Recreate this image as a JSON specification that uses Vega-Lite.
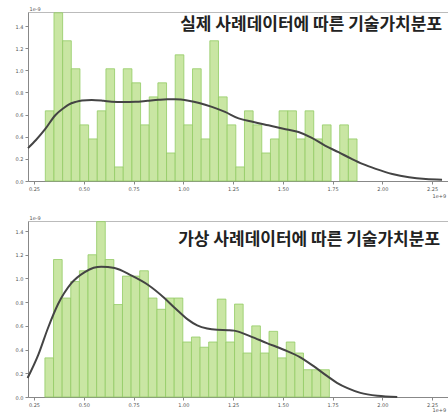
{
  "$schema": "https://vega.github.io/schema/vega-lite/v6.json",
  "background": "white",
  "padding": {"left": 14, "top": 5, "right": 0, "bottom": 0},
  "spacing": 40,
  "bounds": "flush",
  "config": {
    "view": {"stroke": "#bbbbbb", "strokeWidth": 1},
    "axis": {
      "grid": false,
      "labelFontSize": 5,
      "labelColor": "#555555",
      "labelFont": "DejaVu Sans",
      "labelOverlap": false,
      "tickSize": 3,
      "tickColor": "#888888",
      "domainColor": "#888888",
      "titleFontSize": 5,
      "titleFontWeight": "normal",
      "titleColor": "#555555",
      "titleFont": "DejaVu Sans"
    },
    "axisY": {"labelOverlap": false, "tickCount": 8},
    "axisQuantitative": {"labelOverlap": false}
  },
  "datasets": {
    "top_bars": [
      {"x0": 0.307, "x1": 0.3505, "density": 0.634},
      {"x0": 0.3505, "x1": 0.394, "density": 1.52},
      {"x0": 0.394, "x1": 0.4375, "density": 1.267},
      {"x0": 0.4375, "x1": 0.481, "density": 1.014},
      {"x0": 0.481, "x1": 0.5245, "density": 0.507},
      {"x0": 0.5245, "x1": 0.568, "density": 0.38},
      {"x0": 0.568, "x1": 0.6115, "density": 0.634},
      {"x0": 0.6115, "x1": 0.655, "density": 1.014},
      {"x0": 0.655, "x1": 0.6985, "density": 0.127},
      {"x0": 0.6985, "x1": 0.742, "density": 1.014},
      {"x0": 0.742, "x1": 0.7855, "density": 0.887},
      {"x0": 0.7855, "x1": 0.829, "density": 0.507},
      {"x0": 0.829, "x1": 0.8725, "density": 0.76},
      {"x0": 0.8725, "x1": 0.916, "density": 0.887},
      {"x0": 0.916, "x1": 0.9595, "density": 0.253},
      {"x0": 0.9595, "x1": 1.003, "density": 1.14},
      {"x0": 1.003, "x1": 1.0465, "density": 0.507},
      {"x0": 1.0465, "x1": 1.09, "density": 1.014},
      {"x0": 1.09, "x1": 1.1335, "density": 0.38},
      {"x0": 1.1335, "x1": 1.177, "density": 1.267},
      {"x0": 1.177, "x1": 1.2205, "density": 0.76},
      {"x0": 1.2205, "x1": 1.264, "density": 0.507},
      {"x0": 1.264, "x1": 1.3075, "density": 0.127},
      {"x0": 1.3075, "x1": 1.351, "density": 0.634},
      {"x0": 1.351, "x1": 1.3945, "density": 0.507},
      {"x0": 1.3945, "x1": 1.438, "density": 0.253},
      {"x0": 1.438, "x1": 1.4815, "density": 0.38},
      {"x0": 1.4815, "x1": 1.525, "density": 0.634},
      {"x0": 1.525, "x1": 1.5685, "density": 0.634},
      {"x0": 1.5685, "x1": 1.612, "density": 0.38},
      {"x0": 1.612, "x1": 1.6555, "density": 0.634},
      {"x0": 1.6555, "x1": 1.699, "density": 0.38},
      {"x0": 1.699, "x1": 1.7425, "density": 0.507},
      {"x0": 1.786, "x1": 1.8295, "density": 0.507},
      {"x0": 1.8295, "x1": 1.873, "density": 0.38}
    ],
    "top_kde": [
      {"x": 0.22, "y": 0.297}, {"x": 0.26, "y": 0.37}, {"x": 0.307, "y": 0.47},
      {"x": 0.357, "y": 0.594}, {"x": 0.4, "y": 0.66}, {"x": 0.424, "y": 0.69},
      {"x": 0.46, "y": 0.715}, {"x": 0.491, "y": 0.728}, {"x": 0.54, "y": 0.733},
      {"x": 0.6, "y": 0.725}, {"x": 0.64, "y": 0.717}, {"x": 0.7, "y": 0.713},
      {"x": 0.759, "y": 0.715}, {"x": 0.82, "y": 0.725}, {"x": 0.876, "y": 0.734},
      {"x": 0.92, "y": 0.738}, {"x": 0.96, "y": 0.738}, {"x": 1.027, "y": 0.725},
      {"x": 1.08, "y": 0.705}, {"x": 1.144, "y": 0.67}, {"x": 1.21, "y": 0.624},
      {"x": 1.278, "y": 0.566}, {"x": 1.353, "y": 0.533}, {"x": 1.428, "y": 0.503},
      {"x": 1.503, "y": 0.473}, {"x": 1.579, "y": 0.443}, {"x": 1.646, "y": 0.39},
      {"x": 1.712, "y": 0.32}, {"x": 1.78, "y": 0.26}, {"x": 1.846, "y": 0.2},
      {"x": 1.9, "y": 0.155}, {"x": 1.967, "y": 0.11}, {"x": 2.05, "y": 0.064},
      {"x": 2.134, "y": 0.034}, {"x": 2.218, "y": 0.018}, {"x": 2.3, "y": 0.012}
    ],
    "bot_bars": [
      {"x0": 0.305, "x1": 0.3483, "density": 0.33},
      {"x0": 0.3483, "x1": 0.3916, "density": 1.16},
      {"x0": 0.3916, "x1": 0.4349, "density": 0.835},
      {"x0": 0.4349, "x1": 0.4782, "density": 0.975},
      {"x0": 0.4782, "x1": 0.5215, "density": 1.065},
      {"x0": 0.5215, "x1": 0.5648, "density": 1.2},
      {"x0": 0.5648, "x1": 0.6081, "density": 1.48},
      {"x0": 0.6081, "x1": 0.6514, "density": 1.16},
      {"x0": 0.6514, "x1": 0.6947, "density": 0.78},
      {"x0": 0.6947, "x1": 0.738, "density": 1.02},
      {"x0": 0.738, "x1": 0.7813, "density": 1.02},
      {"x0": 0.7813, "x1": 0.8246, "density": 1.065},
      {"x0": 0.8246, "x1": 0.8679, "density": 0.835},
      {"x0": 0.8679, "x1": 0.9112, "density": 0.74},
      {"x0": 0.9112, "x1": 0.9545, "density": 0.835},
      {"x0": 0.9545, "x1": 0.9978, "density": 0.835},
      {"x0": 0.9978, "x1": 1.0411, "density": 0.464},
      {"x0": 1.0411, "x1": 1.0844, "density": 0.506},
      {"x0": 1.0844, "x1": 1.1277, "density": 0.42},
      {"x0": 1.1277, "x1": 1.171, "density": 0.464},
      {"x0": 1.171, "x1": 1.2143, "density": 0.826},
      {"x0": 1.2143, "x1": 1.2576, "density": 0.464},
      {"x0": 1.2576, "x1": 1.3009, "density": 0.784},
      {"x0": 1.3009, "x1": 1.3442, "density": 0.371},
      {"x0": 1.3442, "x1": 1.3875, "density": 0.6},
      {"x0": 1.3875, "x1": 1.4308, "density": 0.371},
      {"x0": 1.4308, "x1": 1.4741, "density": 0.554},
      {"x0": 1.4741, "x1": 1.5174, "density": 0.33},
      {"x0": 1.5174, "x1": 1.5607, "density": 0.464},
      {"x0": 1.5607, "x1": 1.604, "density": 0.371},
      {"x0": 1.604, "x1": 1.6473, "density": 0.23},
      {"x0": 1.6473, "x1": 1.6906, "density": 0.23},
      {"x0": 1.6906, "x1": 1.7339, "density": 0.23}
    ],
    "bot_kde": [
      {"x": 0.218, "y": 0.16}, {"x": 0.272, "y": 0.357}, {"x": 0.32, "y": 0.58},
      {"x": 0.37, "y": 0.78}, {"x": 0.438, "y": 0.96}, {"x": 0.505, "y": 1.054},
      {"x": 0.55, "y": 1.09}, {"x": 0.588, "y": 1.1}, {"x": 0.655, "y": 1.088},
      {"x": 0.738, "y": 1.026}, {"x": 0.822, "y": 0.947}, {"x": 0.905, "y": 0.835},
      {"x": 0.955, "y": 0.755}, {"x": 0.988, "y": 0.705}, {"x": 1.022, "y": 0.655},
      {"x": 1.07, "y": 0.605}, {"x": 1.12, "y": 0.578}, {"x": 1.17, "y": 0.567},
      {"x": 1.225, "y": 0.564}, {"x": 1.255, "y": 0.56}, {"x": 1.338, "y": 0.512},
      {"x": 1.42, "y": 0.455}, {"x": 1.505, "y": 0.399}, {"x": 1.588, "y": 0.335},
      {"x": 1.655, "y": 0.26}, {"x": 1.72, "y": 0.18}, {"x": 1.772, "y": 0.12},
      {"x": 1.825, "y": 0.075}, {"x": 1.89, "y": 0.035}, {"x": 1.975, "y": 0.01},
      {"x": 2.075, "y": 0.0}
    ]
  },
  "vconcat": [
    {
      "width": 422,
      "height": 169,
      "layer": [
        {
          "data": {"name": "top_bars"},
          "mark": {"type": "rect", "fill": "#c9e6a3", "stroke": "#93cb64", "strokeWidth": 0.8},
          "encoding": {
            "x": {"field": "x0", "type": "quantitative",
              "scale": {"domain": [0.22, 2.34], "nice": false, "zero": false},
              "axis": {"values": [0.25, 0.5, 0.75, 1.0, 1.25, 1.5, 1.75, 2.0, 2.25], "format": ".2f", "labelOverlap": false,
                "title": "1e+9", "titleX": 404, "titleY": 12, "titleAlign": "left", "titleBaseline": "top"}},
            "x2": {"field": "x1"},
            "y": {"field": "density", "type": "quantitative",
              "scale": {"domain": [0, 1.527], "nice": false},
              "axis": {"values": [0, 0.2, 0.4, 0.6, 0.8, 1.0, 1.2, 1.4], "format": ".1f", "labelOverlap": false, "tickCount": 8,
                "title": "1e-9", "titleAngle": 0, "titleX": 1, "titleY": -1, "titleAlign": "left", "titleBaseline": "bottom"}},
            "y2": {"datum": 0}
          }
        },
        {
          "data": {"name": "top_kde"},
          "mark": {"type": "line", "color": "#444444", "strokeWidth": 2, "interpolate": "monotone"},
          "encoding": {
            "x": {"field": "x", "type": "quantitative"},
            "y": {"field": "y", "type": "quantitative"}
          }
        },
        {
          "data": {"values": [{"label": "실제 사례데이터에 따른 기술가치분포"}]},
          "mark": {"type": "text", "font": "Noto Sans CJK KR", "fontWeight": "bold", "fontSize": 17, "letterSpacing": 1, "color": "#222222", "align": "right", "baseline": "middle"},
          "encoding": {
            "text": {"field": "label"},
            "x": {"datum": 2.3, "type": "quantitative"},
            "y": {"datum": 1.41, "type": "quantitative"}
          }
        }
      ]
    },
    {
      "width": 422,
      "height": 176,
      "layer": [
        {
          "data": {"name": "bot_bars"},
          "mark": {"type": "rect", "fill": "#c9e6a3", "stroke": "#93cb64", "strokeWidth": 0.8},
          "encoding": {
            "x": {"field": "x0", "type": "quantitative",
              "scale": {"domain": [0.22, 2.34], "nice": false, "zero": false},
              "axis": {"values": [0.25, 0.5, 0.75, 1.0, 1.25, 1.5, 1.75, 2.0, 2.25], "format": ".2f", "labelOverlap": false,
                "title": "1e+9", "titleX": 404, "titleY": 10, "titleAlign": "left", "titleBaseline": "top"}},
            "x2": {"field": "x1"},
            "y": {"field": "density", "type": "quantitative",
              "scale": {"domain": [0, 1.485], "nice": false},
              "axis": {"values": [0, 0.2, 0.4, 0.6, 0.8, 1.0, 1.2, 1.4], "format": ".1f", "labelOverlap": false, "tickCount": 8,
                "title": "1e-9", "titleAngle": 0, "titleX": 1, "titleY": -1, "titleAlign": "left", "titleBaseline": "bottom"}},
            "y2": {"datum": 0}
          }
        },
        {
          "data": {"name": "bot_kde"},
          "mark": {"type": "line", "color": "#444444", "strokeWidth": 2, "interpolate": "monotone"},
          "encoding": {
            "x": {"field": "x", "type": "quantitative"},
            "y": {"field": "y", "type": "quantitative"}
          }
        },
        {
          "data": {"values": [{"label": "가상 사례데이터에 따른 기술가치분포"}]},
          "mark": {"type": "text", "font": "Noto Sans CJK KR", "fontWeight": "bold", "fontSize": 17, "letterSpacing": 1, "color": "#222222", "align": "right", "baseline": "middle"},
          "encoding": {
            "text": {"field": "label"},
            "x": {"datum": 2.29, "type": "quantitative"},
            "y": {"datum": 1.326, "type": "quantitative"}
          }
        }
      ]
    }
  ]
}
